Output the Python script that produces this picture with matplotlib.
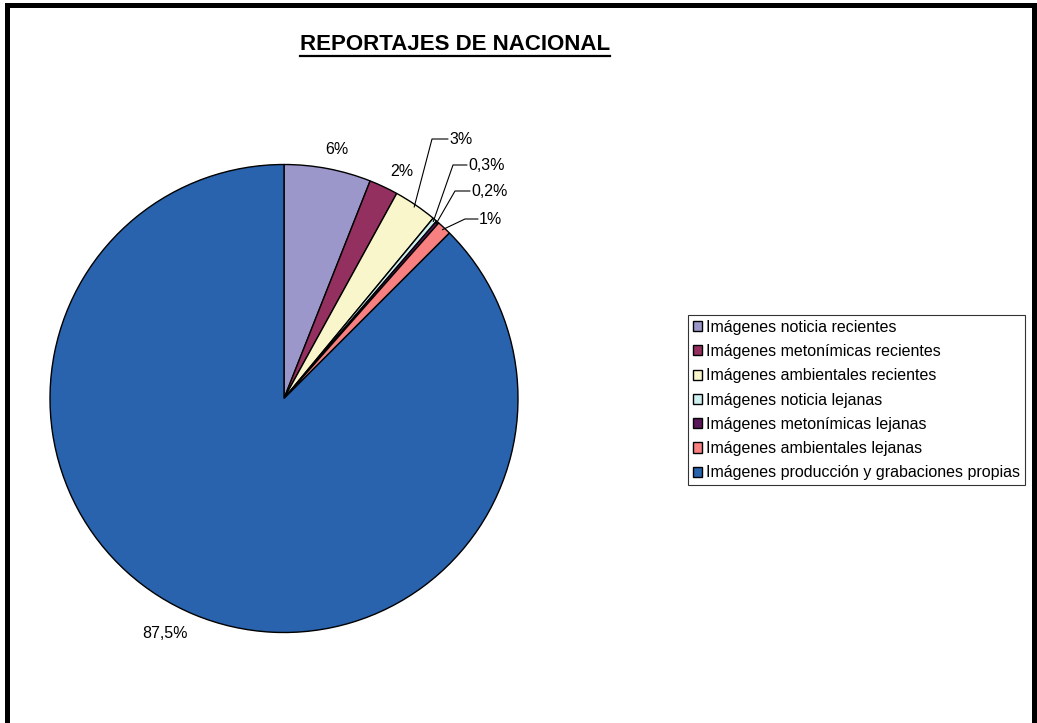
import numpy as np
import matplotlib.pyplot as plt
from matplotlib.lines import Line2D

plt.rcParams['font.family'] = ['Liberation Sans', 'DejaVu Sans']

# data
categories = ['Imágenes noticia recientes', 'Imágenes metonímicas recientes',
              'Imágenes ambientales recientes', 'Imágenes noticia lejanas',
              'Imágenes metonímicas lejanas', 'Imágenes ambientales lejanas',
              'Imágenes producción y grabaciones propias']
values = [6, 2, 3, 0.3, 0.2, 1, 87.5]
value_labels = ['6%', '2%', '3%', '0,3%', '0,2%', '1%', '87,5%']
colors = ['#9B97CB', '#93305F', '#FAF6CC', '#CFF0F0', '#5A1659', '#F88080', '#2962AD']

W, H = 1037, 723
fig = plt.figure(figsize=(W / 100, H / 100), dpi=100)

# pie centre / radius in pixels
cx, cy, R = 284, 398.5, 234
half = 284
ax = fig.add_axes([(cx - half) / W, (H - cy - half) / H, 2 * half / W, 2 * half / H])

wedges, _ = ax.pie(values, colors=colors, startangle=90, counterclock=False,
                   wedgeprops=dict(edgecolor='black', linewidth=1.0))
ax.set_xlim(-half / R, half / R)
ax.set_ylim(-half / R, half / R)
ax.set_aspect('equal')
ax.axis('off')

def px(x, y):
    return (x - cx) / R, (cy - y) / R

fs = 11.5
# labels without leaders
for i, (x, y) in zip([0, 1, 6], [(337, 149), (402, 171), (165, 634)]):
    ax.text(*px(x, y), value_labels[i], ha='center', va='center', fontsize=fs)

# labels with leader lines
leaders = {2: ((432, 139), (449, 139)),
           3: ((453, 165), (468, 165)),
           4: ((455, 191), (471, 191)),
           5: ((465, 219), (479, 219))}
for i, (elbow, tpos) in leaders.items():
    w = wedges[i]
    ang = np.deg2rad((w.theta1 + w.theta2) / 2)
    ax0, ay0 = 0.99 * np.cos(ang), 0.99 * np.sin(ang)
    ex, ey = px(*elbow)
    tx, ty = px(*tpos)
    ax.plot([ax0, ex, tx - 0.005], [ay0, ey, ey], color='black', lw=0.8)
    ax.text(tx, ty, value_labels[i], ha='left', va='center', fontsize=fs)

# legend
leg = fig.legend(wedges, categories, loc='upper left',
                 bbox_to_anchor=(688 / W, (H - 315) / H),
                 fontsize=11.5, frameon=True, fancybox=False, shadow=False,
                 handlelength=0.6, handleheight=0.6, handletextpad=0.25,
                 labelspacing=0.58, borderpad=0.3, borderaxespad=0)
leg.get_frame().set_edgecolor('black')
leg.get_frame().set_linewidth(0.8)

# title, underlined
title = fig.text(455 / W, (H - 44) / H, 'REPORTAJES DE NACIONAL',
                 ha='center', va='center', fontsize=16, fontweight='bold')
fig.canvas.draw()
bb = title.get_window_extent()
fig.add_artist(Line2D([bb.x0 / W, bb.x1 / W], [(H - 56) / H] * 2,
                      transform=fig.transFigure, color='black', lw=1.6))

# outer border (open at bottom)
bw = 5 * 72 / 100
fig.add_artist(Line2D([7 / W, 7 / W, 1034 / W, 1034 / W],
                      [0, (H - 5) / H, (H - 5) / H, 0],
                      transform=fig.transFigure, color='black', lw=bw,
                      solid_joinstyle='miter'))

fig.savefig('out.png', dpi=100)
